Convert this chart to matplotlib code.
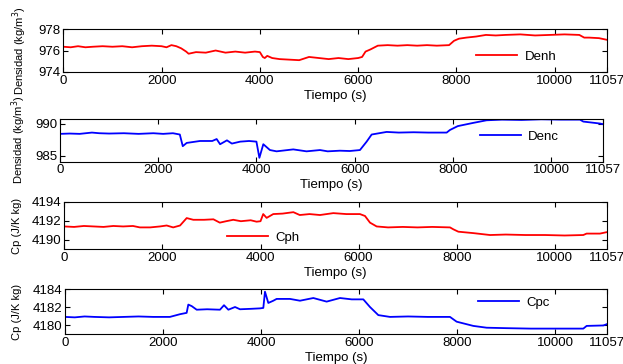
import matplotlib
matplotlib.use("Agg")
import matplotlib.pyplot as plt

plt.rcParams["font.family"] = ["Liberation Sans", "DejaVu Sans"]
plt.rcParams["font.size"] = 9.5

# (time s, value)
denh = [(0, 976.35), (150, 976.3), (300, 976.4), (450, 976.3), (600, 976.35), (800, 976.4),
        (1000, 976.35), (1200, 976.4), (1400, 976.3), (1600, 976.4), (1800, 976.45), (2000, 976.4),
        (2100, 976.3), (2200, 976.5), (2300, 976.4), (2400, 976.2), (2500, 975.9), (2550, 975.7),
        (2700, 975.85), (2900, 975.8), (3100, 976.0), (3300, 975.8), (3500, 975.9), (3700, 975.8),
        (3900, 975.9), (4000, 975.85), (4060, 975.4), (4100, 975.3), (4150, 975.5), (4250, 975.3),
        (4400, 975.2), (4600, 975.15), (4800, 975.1), (5000, 975.4), (5200, 975.3), (5400, 975.2),
        (5600, 975.3), (5800, 975.2), (6000, 975.3), (6080, 975.4), (6150, 975.9), (6250, 976.1),
        (6400, 976.45), (6600, 976.5), (6800, 976.45), (7000, 976.5), (7200, 976.45), (7400, 976.5),
        (7600, 976.45), (7850, 976.5), (7950, 976.9), (8050, 977.1), (8200, 977.2), (8400, 977.3),
        (8600, 977.45), (8800, 977.4), (9000, 977.45), (9300, 977.5), (9600, 977.4), (9900, 977.45),
        (10200, 977.5), (10500, 977.45), (10600, 977.2), (10700, 977.2), (10900, 977.15), (11057, 977.0)]

denc = [(0, 988.4), (200, 988.45), (400, 988.4), (650, 988.6), (800, 988.5), (1000, 988.45),
        (1300, 988.5), (1600, 988.4), (1900, 988.5), (2100, 988.4), (2300, 988.5), (2440, 988.3),
        (2500, 986.5), (2580, 987.0), (2850, 987.3), (3100, 987.3), (3190, 987.6), (3260, 986.8),
        (3400, 987.4), (3500, 986.9), (3670, 987.2), (3850, 987.3), (4000, 987.2), (4060, 984.7),
        (4140, 986.8), (4275, 985.9), (4410, 985.7), (4750, 986.0), (5020, 985.7), (5294, 985.9),
        (5450, 985.7), (5700, 985.8), (5900, 985.75), (6108, 985.9), (6244, 987.2), (6346, 988.3),
        (6651, 988.7), (6900, 988.6), (7200, 988.65), (7500, 988.6), (7874, 988.6), (7940, 989.0),
        (8100, 989.6), (8416, 990.1), (8687, 990.5), (9000, 990.6), (9400, 990.55), (9800, 990.65),
        (10200, 990.6), (10588, 990.6), (10656, 990.3), (10995, 990.0), (11057, 989.9)]

cph = [(0, 4191.4), (200, 4191.35), (400, 4191.45), (600, 4191.4), (800, 4191.35), (1000, 4191.45),
       (1200, 4191.4), (1400, 4191.45), (1540, 4191.3), (1750, 4191.3), (1950, 4191.4), (2087, 4191.5),
       (2220, 4191.3), (2360, 4191.5), (2495, 4192.28), (2630, 4192.1), (2850, 4192.1), (3040, 4192.15),
       (3170, 4191.8), (3300, 4191.95), (3445, 4192.1), (3600, 4191.95), (3800, 4192.05), (3920, 4191.9),
       (4000, 4191.95), (4055, 4192.7), (4125, 4192.3), (4260, 4192.7), (4450, 4192.75), (4670, 4192.9),
       (4800, 4192.6), (5000, 4192.7), (5212, 4192.6), (5484, 4192.8), (5750, 4192.7), (6027, 4192.7),
       (6130, 4192.5), (6232, 4191.8), (6368, 4191.4), (6600, 4191.3), (6900, 4191.35), (7200, 4191.3),
       (7500, 4191.35), (7863, 4191.3), (7931, 4191.1), (8033, 4190.85), (8339, 4190.7), (8679, 4190.5),
       (9000, 4190.55), (9400, 4190.5), (9800, 4190.5), (10200, 4190.45), (10580, 4190.5), (10648, 4190.65),
       (10920, 4190.65), (11057, 4190.8)]

cpc = [(0, 4180.9), (200, 4180.85), (400, 4180.95), (600, 4180.9), (900, 4180.85), (1200, 4180.9),
       (1500, 4180.95), (1800, 4180.9), (2140, 4180.9), (2346, 4181.2), (2482, 4181.35), (2516, 4182.27),
       (2585, 4182.1), (2687, 4181.7), (2900, 4181.75), (3162, 4181.7), (3244, 4182.2), (3333, 4181.7),
       (3469, 4182.0), (3570, 4181.75), (3800, 4181.8), (3980, 4181.85), (4046, 4181.9), (4080, 4183.7),
       (4148, 4182.45), (4250, 4182.7), (4318, 4182.9), (4590, 4182.9), (4794, 4182.7), (5066, 4183.0),
       (5338, 4182.6), (5610, 4183.0), (5850, 4182.85), (6086, 4182.85), (6222, 4182.0), (6392, 4181.1),
       (6630, 4180.9), (7000, 4180.95), (7400, 4180.9), (7854, 4180.9), (7990, 4180.37), (8330, 4179.9),
       (8602, 4179.7), (9000, 4179.65), (9500, 4179.6), (10000, 4179.6), (10574, 4179.6), (10642, 4179.9),
       (10982, 4179.95), (11057, 4180.1)]

x_ticks = [0, 2000, 4000, 6000, 8000, 10000, 11057]

panels = [
    # series, label, colour, ylabel, ylim, yticks, axes rect, legend anchor, ylabel x (fig frac)
    (denh, "Denh", "#ff0000", "Densidad (kg/m$^3$)", (974, 978), [974, 976, 978],
     [0.1016, 0.8022, 0.8722, 0.1181], (0.76, 0.35), 0.047),
    (denc, "Denc", "#0000ff", "Densidad (kg/m$^3$)", (984.1, 990.7), [985, 990],
     [0.0963, 0.5558, 0.8716, 0.1173], (0.773, 0.58), 0.045),
    (cph, "Cph", "#ff0000", "Cp (J/K kg)", (4189, 4194), [4190, 4192, 4194],
     [0.1032, 0.3151, 0.8706, 0.1308], (0.30, 0.24), 0.035),
    (cpc, "Cpc", "#0000ff", "Cp (J/K kg)", (4179, 4184), [4180, 4182, 4184],
     [0.1043, 0.0824, 0.8700, 0.1236], (0.762, 0.69), 0.035),
]

fig = plt.figure(figsize=(6.23, 3.64), dpi=100)
for series, label, color, ylabel, ylim, yticks, rect, anchor, ylab_x in panels:
    ax = fig.add_axes(rect)
    t = [p[0] for p in series]
    v = [p[1] for p in series]
    ax.plot(t, v, color=color, lw=1.3, label=label)
    ax.set_xlim(0, 11057)
    ax.set_ylim(*ylim)
    ax.set_xticks(x_ticks)
    ax.set_yticks(yticks)
    ax.tick_params(direction="in", top=True, right=True, length=3.5, width=0.8, pad=2)
    ax.set_xlabel("Tiempo (s)", labelpad=2)
    ax.set_ylabel(ylabel, fontsize=8)
    ax.yaxis.set_label_coords(ylab_x, rect[1] + rect[3] / 2, transform=fig.transFigure)
    for s in ax.spines.values():
        s.set_linewidth(0.8)
    ax.legend(loc="center left", bbox_to_anchor=anchor, frameon=False,
              borderpad=0, borderaxespad=0, handlelength=3.1, handletextpad=0.55)

fig.savefig("out.png", dpi=100)
